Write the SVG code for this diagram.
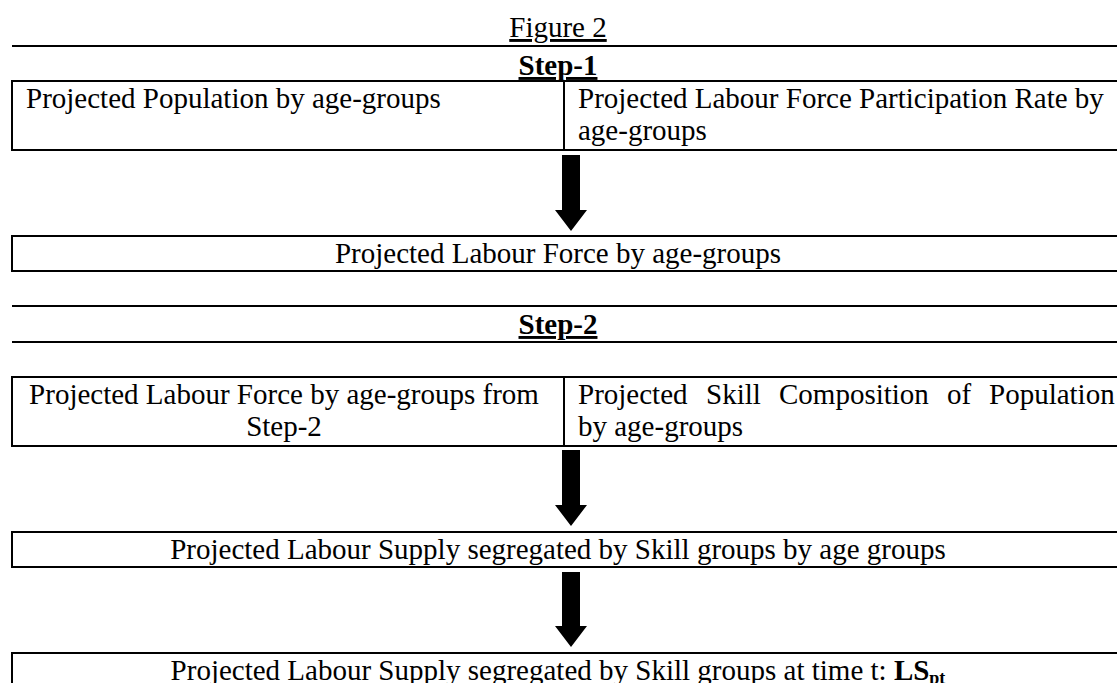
<svg xmlns="http://www.w3.org/2000/svg" width="1117" height="683" viewBox="0 0 1117 683">
<style>
  text { font-family: "Liberation Serif", "Times New Roman", serif; font-size: 29px; fill: #000; }
  .c { text-anchor: middle; }
  .b { font-weight: bold; }
  .u { text-decoration: underline; }
  .box { fill: #fff; stroke: #000; stroke-width: 2; }
  .rule { stroke: #000; stroke-width: 2; }
  .arrow { fill: #000; stroke: none; }
</style>
<rect width="1117" height="683" fill="#fff"/>
<g id="title">
  <text class="c u" x="558" y="37">Figure 2</text>
  <line class="rule" x1="12" y1="46" x2="1117" y2="46"/>
  <text class="c b u" x="558" y="75">Step-1</text>
</g>
<g id="step1-inputs">
  <rect class="box" x="12" y="81" width="1120" height="69"/>
  <line class="rule" x1="564" y1="81" x2="564" y2="150"/>
  <text x="26" y="108">Projected Population by age-groups</text>
  <text x="578" y="108">Projected Labour Force Participation Rate by</text>
  <text x="578" y="140">age-groups</text>
</g>
<g id="labour-force">
  <rect class="box" x="12" y="236" width="1120" height="35"/>
  <text class="c" x="558" y="263">Projected Labour Force by age-groups</text>
</g>
<g id="step2-header">
  <line class="rule" x1="12" y1="306" x2="1117" y2="306"/>
  <text class="c b u" x="558" y="334">Step-2</text>
  <line class="rule" x1="12" y1="342" x2="1117" y2="342"/>
</g>
<g id="step2-inputs">
  <rect class="box" x="12" y="377" width="1120" height="69"/>
  <line class="rule" x1="564" y1="377" x2="564" y2="446"/>
  <text class="c" x="284" y="404">Projected Labour Force by age-groups from</text>
  <text class="c" x="284" y="436">Step-2</text>
  <text y="404"><tspan x="578">Projected</tspan><tspan x="706">Skill</tspan><tspan x="779">Composition</tspan><tspan x="947">of</tspan><tspan x="989">Population</tspan></text>
  <text x="578" y="436">by age-groups</text>
</g>
<g id="supply-by-age">
  <rect class="box" x="12" y="532" width="1120" height="35"/>
  <text class="c" x="558" y="559">Projected Labour Supply segregated by Skill groups by age groups</text>
</g>
<g id="supply-total">
  <rect class="box" x="12" y="653" width="1120" height="60"/>
  <text class="c" x="558" y="680">Projected Labour Supply segregated by Skill groups at time t: <tspan class="b">LS</tspan><tspan class="b" font-size="18" dy="4">pt</tspan></text>
</g>
<g id="connectors">
  <polygon class="arrow" points="562,155 580,155 580,210 587,210 571,231 555,210 562,210"/>
  <polygon class="arrow" points="562,450 580,450 580,505 587,505 571,526 555,505 562,505"/>
  <polygon class="arrow" points="562,572 580,572 580,626 587,626 571,647 555,626 562,626"/>
</g>
</svg>
